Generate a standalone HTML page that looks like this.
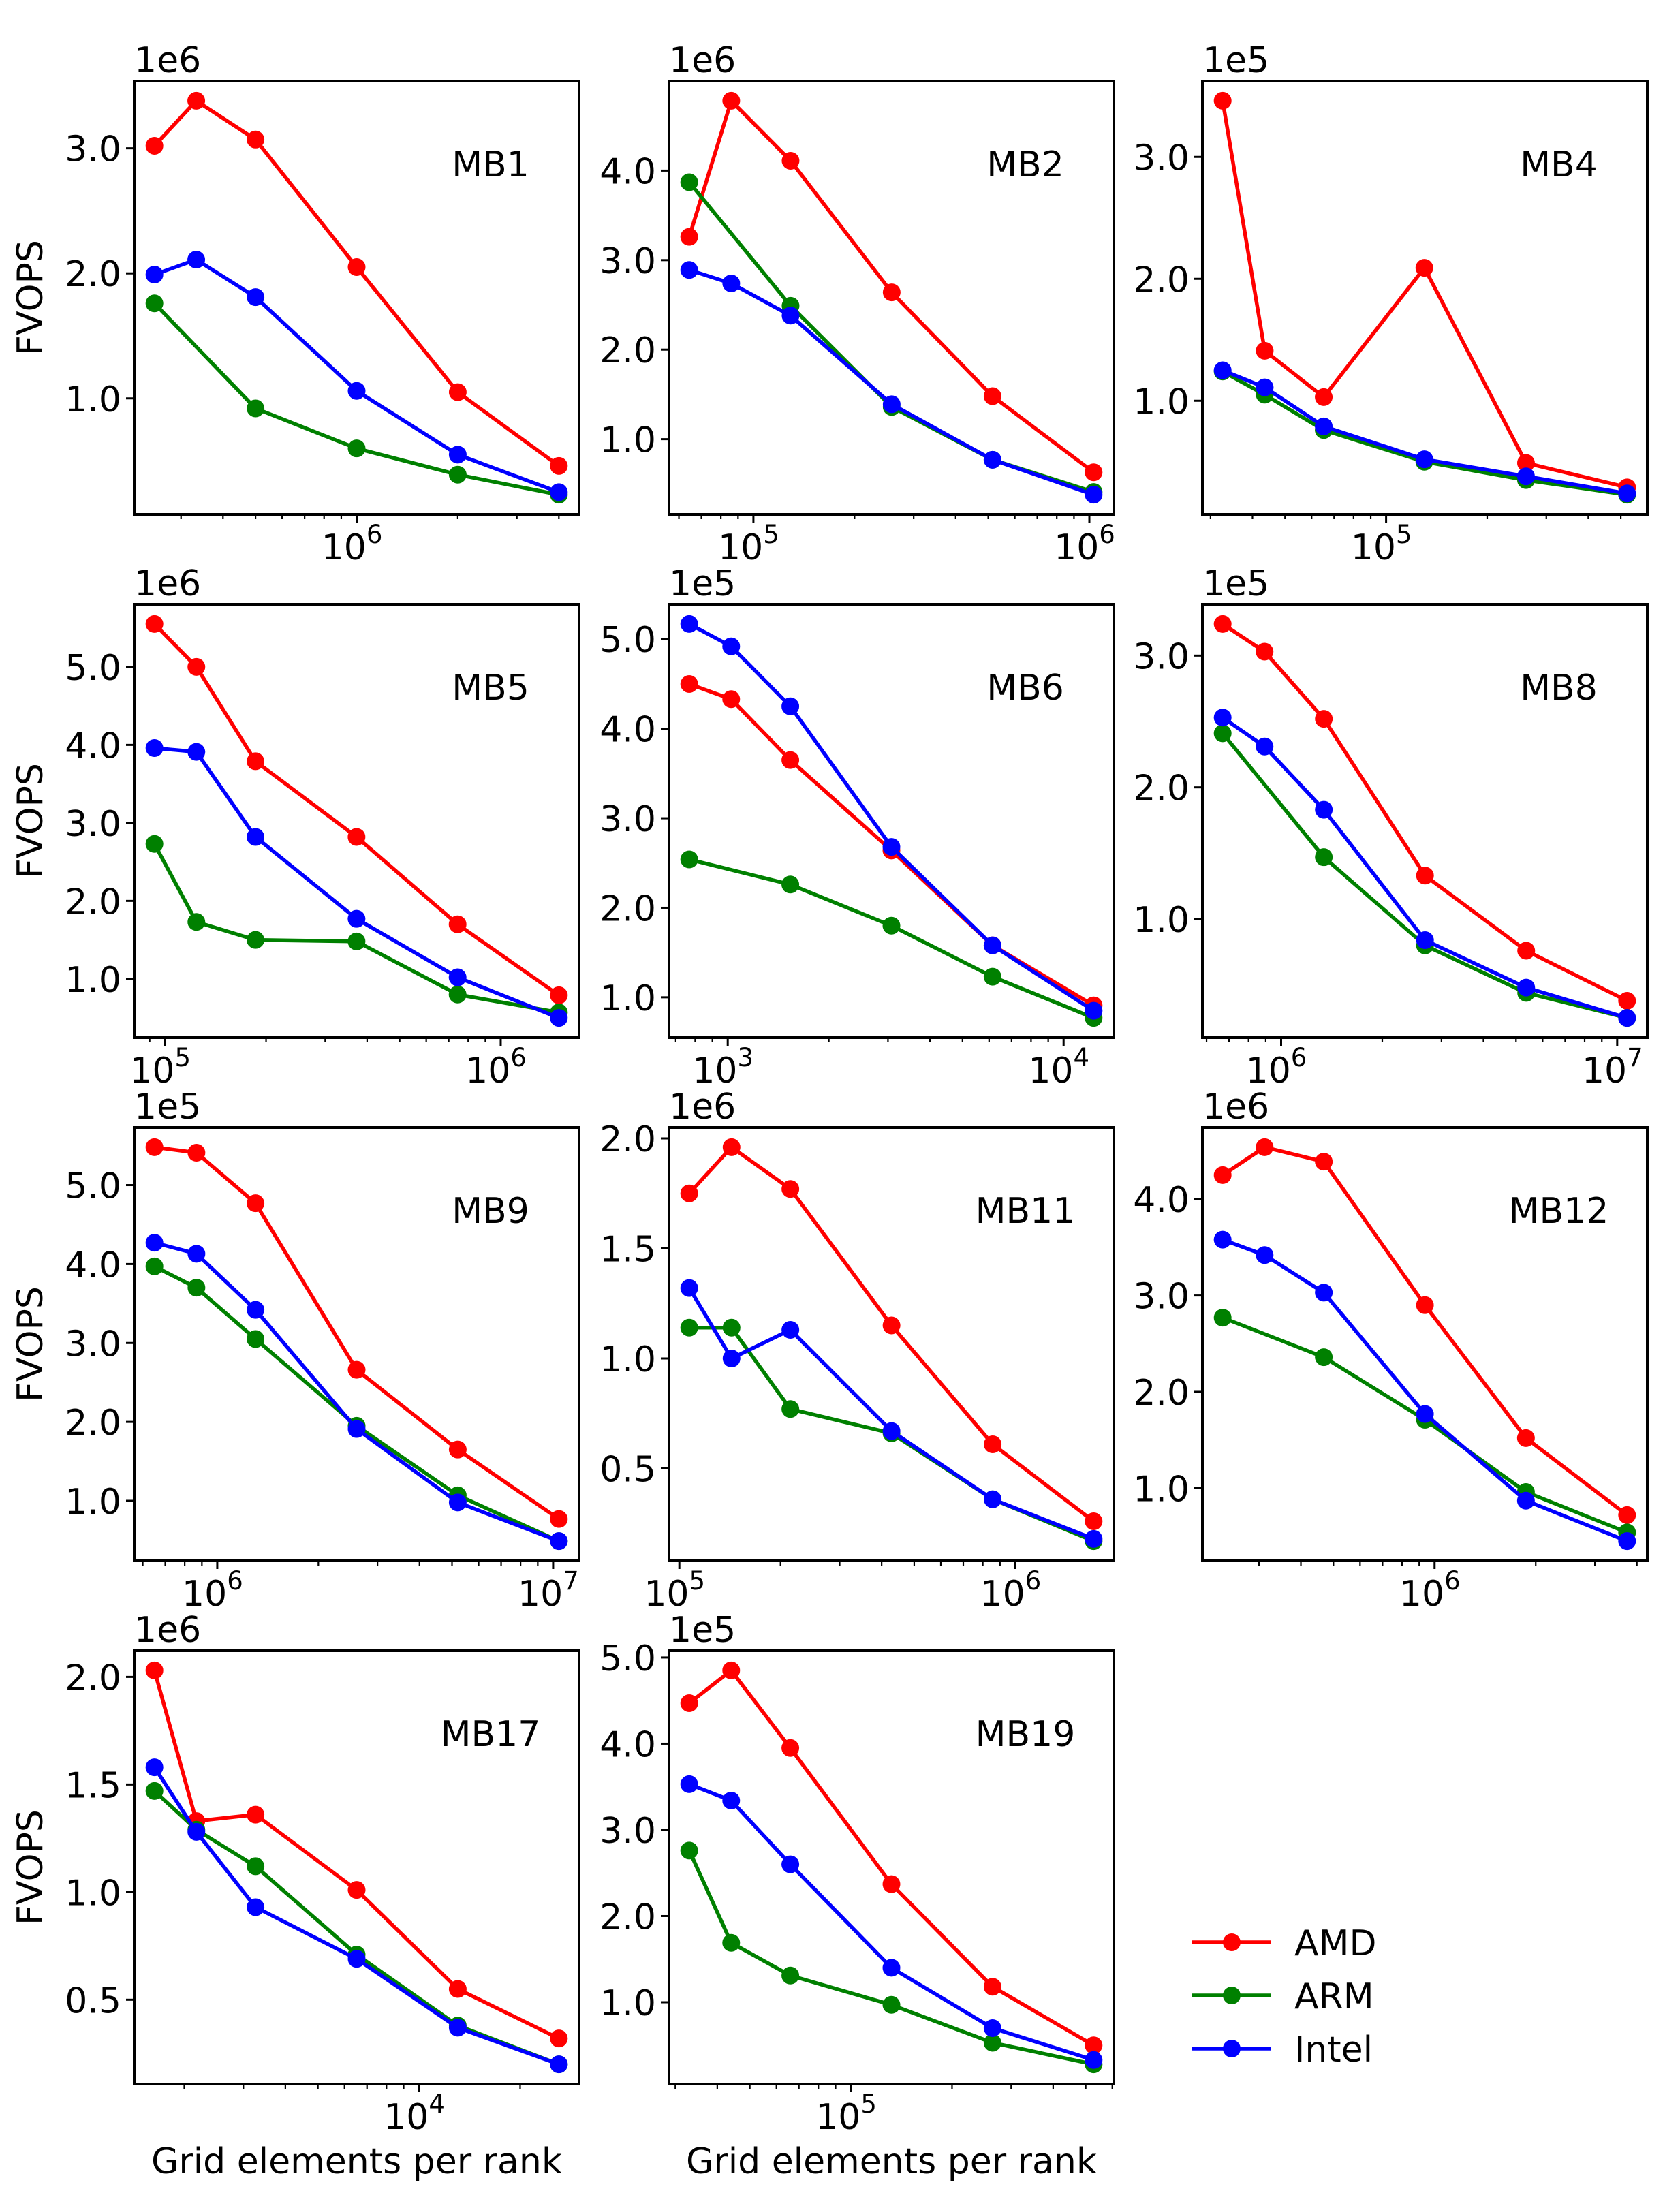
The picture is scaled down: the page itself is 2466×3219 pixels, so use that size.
<!DOCTYPE html>
<html><head><meta charset="utf-8"><style>
html,body{margin:0;padding:0;background:#fff;}
svg{display:block;font-family:"DejaVu Sans","Liberation Sans",sans-serif;}
</style></head>
<body>
<svg id="fig" width="2466" height="3219" viewBox="0 0 2466 3219" xmlns="http://www.w3.org/2000/svg"></svg>
<script>
// ---- data (x: grid elements per rank; y in units of 10^exp) ----
const mb1X=[2.5e5,3.33e5,5e5,1e6,2e6,4e6];
const mb1Amd=[3.02,3.38,3.07,2.05,1.05,0.46];
const mb1Arm=[1.76,null,0.92,0.60,0.39,0.23];
const mb1Intel=[1.99,2.11,1.81,1.06,0.55,0.25];
const mb1YTicks=[1,2,3];

const mb2X=[6.44e4,8.59e4,1.29e5,2.58e5,5.15e5,1.03e6];
const mb2Amd=[3.26,4.78,4.11,2.64,1.48,0.63];
const mb2Arm=[3.87,null,2.49,1.36,0.77,0.41];
const mb2Intel=[2.89,2.74,2.38,1.39,0.77,0.38];
const mb2YTicks=[1,2,3,4];

const mb4X=[3.26e4,4.35e4,6.52e4,1.30e5,2.61e5,5.22e5];
const mb4Amd=[3.46,1.41,1.03,2.09,0.49,0.29];
const mb4Arm=[1.24,1.05,0.76,0.50,0.35,0.23];
const mb4Intel=[1.25,1.11,0.79,0.52,0.38,0.24];
const mb4YTicks=[1,2,3];

const mb5X=[9.3e4,1.24e5,1.86e5,3.72e5,7.44e5,1.49e6];
const mb5Amd=[5.55,5.0,3.79,2.82,1.70,0.79];
const mb5Arm=[2.73,1.73,1.50,1.48,0.80,0.57];
const mb5Intel=[3.96,3.91,2.82,1.77,1.02,0.50];
const mb5YTicks=[1,2,3,4,5];

const mb6X=[768,1024,1536,3072,6144,12288];
const mb6Amd=[4.50,4.33,3.65,2.64,1.58,0.91];
const mb6Arm=[2.54,null,2.26,1.80,1.23,0.77];
const mb6Intel=[5.17,4.92,4.25,2.68,1.58,0.85];
const mb6YTicks=[1,2,3,4,5];

const mb8X=[6.7e5,8.93e5,1.34e6,2.68e6,5.36e6,1.07e7];
const mb8Amd=[3.24,3.03,2.52,1.33,0.76,0.38];
const mb8Arm=[2.41,null,1.47,0.80,0.44,0.25];
const mb8Intel=[2.53,2.31,1.83,0.84,0.48,0.25];
const mb8YTicks=[1,2,3];

const mb9X=[6.5e5,8.67e5,1.3e6,2.6e6,5.2e6,1.04e7];
const mb9Amd=[5.48,5.41,4.77,2.66,1.65,0.77];
const mb9Arm=[3.97,3.70,3.05,1.95,1.07,0.49];
const mb9Intel=[4.27,4.13,3.42,1.91,0.98,0.49];
const mb9YTicks=[1,2,3,4,5];

const mb11X=[1.07e5,1.43e5,2.14e5,4.28e5,8.56e5,1.71e6];
const mb11Amd=[1.75,1.96,1.77,1.15,0.61,0.26];
const mb11Arm=[1.14,1.14,0.77,0.66,0.36,0.17];
const mb11Intel=[1.32,1.00,1.13,0.67,0.36,0.18];
const mb11YTicks=[0.5,1.0,1.5,2.0];

const mb12X=[2.34e5,3.12e5,4.68e5,9.36e5,1.87e6,3.74e6];
const mb12Amd=[4.25,4.54,4.39,2.90,1.52,0.72];
const mb12Arm=[2.77,null,2.36,1.71,0.96,0.54];
const mb12Intel=[3.58,3.42,3.03,1.77,0.87,0.45];
const mb12YTicks=[1,2,3,4];

const mb17X=[1630,2173,3260,6520,13040,26080];
const mb17Amd=[2.03,1.33,1.36,1.01,0.55,0.32];
const mb17Arm=[1.47,1.29,1.12,0.71,0.38,0.20];
const mb17Intel=[1.58,1.28,0.93,0.69,0.37,0.20];
const mb17YTicks=[0.5,1.0,1.5,2.0];

const mb19X=[3.3e4,4.4e4,6.6e4,1.32e5,2.64e5,5.28e5];
const mb19Amd=[4.47,4.85,3.95,2.37,1.18,0.50];
const mb19Arm=[2.76,1.69,1.31,0.97,0.53,0.28];
const mb19Intel=[3.53,3.34,2.60,1.40,0.70,0.33];
const mb19YTicks=[1,2,3,4,5];

const seriesNames=["AMD","ARM","Intel"];
const seriesColors=["#ff0000","#008000","#0000ff"];

const NS="http://www.w3.org/2000/svg";
const svg=document.getElementById("fig");
function mk(tag,attrs,parent){const e=document.createElementNS(NS,tag);for(const k in attrs)e.setAttribute(k,attrs[k]);(parent||svg).appendChild(e);return e;}

const FS=52;
const lefts=[197,982,1765], tops=[119,887,1655,2423], W=653, H=636;
const panels=[
 {name:"MB1",exp:6,x:mb1X,s:[mb1Amd,mb1Arm,mb1Intel],yt:mb1YTicks,c:0,r:0},
 {name:"MB2",exp:6,x:mb2X,s:[mb2Amd,mb2Arm,mb2Intel],yt:mb2YTicks,c:1,r:0},
 {name:"MB4",exp:5,x:mb4X,s:[mb4Amd,mb4Arm,mb4Intel],yt:mb4YTicks,c:2,r:0},
 {name:"MB5",exp:6,x:mb5X,s:[mb5Amd,mb5Arm,mb5Intel],yt:mb5YTicks,c:0,r:1},
 {name:"MB6",exp:5,x:mb6X,s:[mb6Amd,mb6Arm,mb6Intel],yt:mb6YTicks,c:1,r:1},
 {name:"MB8",exp:5,x:mb8X,s:[mb8Amd,mb8Arm,mb8Intel],yt:mb8YTicks,c:2,r:1},
 {name:"MB9",exp:5,x:mb9X,s:[mb9Amd,mb9Arm,mb9Intel],yt:mb9YTicks,c:0,r:2},
 {name:"MB11",exp:6,x:mb11X,s:[mb11Amd,mb11Arm,mb11Intel],yt:mb11YTicks,c:1,r:2},
 {name:"MB12",exp:6,x:mb12X,s:[mb12Amd,mb12Arm,mb12Intel],yt:mb12YTicks,c:2,r:2},
 {name:"MB17",exp:6,x:mb17X,s:[mb17Amd,mb17Arm,mb17Intel],yt:mb17YTicks,c:0,r:3},
 {name:"MB19",exp:5,x:mb19X,s:[mb19Amd,mb19Arm,mb19Intel],yt:mb19YTicks,c:1,r:3}
];

panels.forEach(p=>{
  const L=lefts[p.c], T=tops[p.r];
  const g=mk("g",{});
  
  
  const lx=p.x.map(v=>Math.log10(v));
  const lmin=Math.min(...lx), lmax=Math.max(...lx), lm=(lmax-lmin)*0.05;
  const x0=lmin-lm, x1=lmax+lm;
  const all=[].concat(...p.s).filter(v=>v!==null);
  const ymin=Math.min(...all), ymax=Math.max(...all), ym=(ymax-ymin)*0.05;
  const y0=ymin-ym, y1=ymax+ym;
  const X=v=>L+(Math.log10(v)-x0)/(x1-x0)*W;
  const Y=v=>T+H-(v-y0)/(y1-y0)*H;
  for(let d=Math.floor(x0);d<=Math.ceil(x1);d++){
    for(let m=1;m<10;m++){
      const lv=d+Math.log10(m);
      if(lv<x0||lv>x1)continue;
      const px=L+(lv-x0)/(x1-x0)*W;
      const t=mk("line",{x1:px,x2:px,y1:T+H,y2:T+H+(m===1?12:7),stroke:"#000","stroke-width":m===1?3:2.2},g);
      
      
      if(m===1){
        const tx=mk("text",{x:px-7,y:T+H+66,"font-size":FS,"text-anchor":"middle"},g);
        
        
        tx.textContent="10";
        const sup=mk("tspan",{dy:-24,"font-size":37},tx);
        sup.textContent=String(d);
      }
    }
  }
  p.yt.forEach(v=>{
    const py=Y(v);
    const t=mk("line",{x1:L-12,x2:L,y1:py,y2:py,stroke:"#000","stroke-width":3},g);
    
    
    const tx=mk("text",{x:L-19,y:py+19,"font-size":FS,"text-anchor":"end"},g);
    
    
    tx.textContent=v.toFixed(1);
  });
  const off=mk("text",{x:L,y:T-13,"font-size":FS},g);
  
  
  off.textContent="1e"+p.exp;
  p.s.forEach((arr,si)=>{
    const pts=[];
    arr.forEach((v,i)=>{if(v!==null)pts.push([X(p.x[i]),Y(v)]);});
    const pl=mk("polyline",{points:pts.map(q=>q.join(",")).join(" "),fill:"none",stroke:seriesColors[si],"stroke-width":5.5,"stroke-linejoin":"round"},g);
    
    
    pts.forEach(q=>{
      const c=mk("circle",{cx:q[0],cy:q[1],r:13,fill:seriesColors[si]},g);
      
      
    });
  });
  const fr=mk("rect",{x:L,y:T,width:W,height:H,fill:"none",stroke:"#000","stroke-width":4},g);
  
  
  const tl=mk("text",{x:L+523,y:T+140,"font-size":FS,"text-anchor":"middle"},g);
  
  
  tl.textContent=p.name;
  if(p.c===0){
    const yl=mk("text",{x:0,y:0,"font-size":FS,"text-anchor":"middle",transform:"translate(62,"+(T+H/2)+") rotate(-90)"},g);
    
    
    yl.textContent="FVOPS";
  }
  if(p.r===3){
    const xl=mk("text",{x:L+W/2,y:3190,"font-size":FS,"text-anchor":"middle"},g);
    
    
    xl.textContent="Grid elements per rank";
  }
});
const lg=mk("g",{});


seriesNames.forEach((n,i)=>{
  const y=2851+i*78;
  const ln=mk("line",{x1:1750,x2:1866,y1:y,y2:y,stroke:seriesColors[i],"stroke-width":5.5},lg);
  
  
  const c=mk("circle",{cx:1808,cy:y,r:13,fill:seriesColors[i]},lg);
  
  
  const t=mk("text",{x:1900,y:y+19,"font-size":FS},lg);
  
  
  t.textContent=n;
});
</script>
</body></html>
